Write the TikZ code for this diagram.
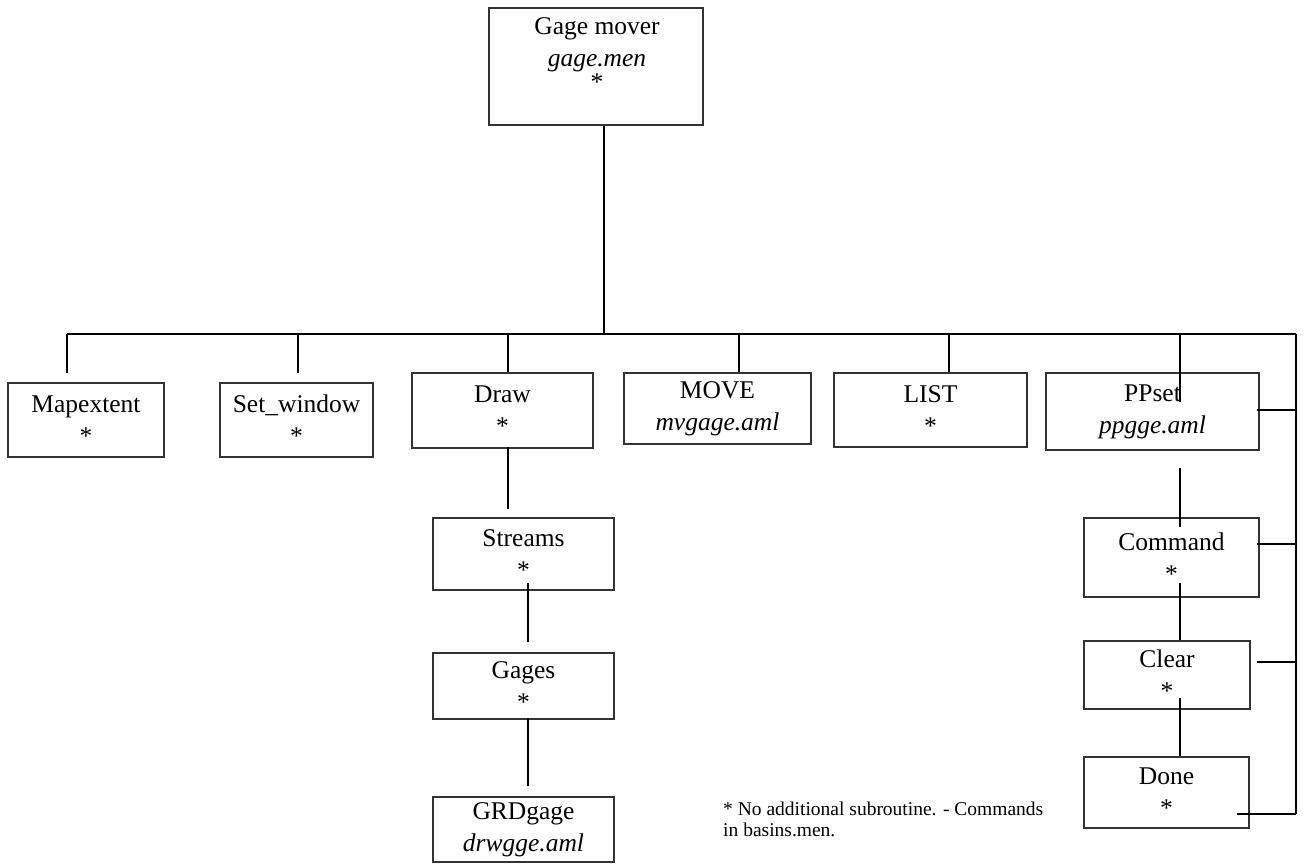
\documentclass[tikz,border=0pt]{standalone}
\usepackage{fontspec}
\setmainfont{Liberation Serif}
\usetikzlibrary{calc}
\begin{document}
\begin{tikzpicture}[x=1pt,y=-1pt,
  box/.style={draw=black!80, line width=1.1pt, inner sep=0pt, align=center,
    font=\fontsize{25.5}{32}\selectfont},
  link/.style={line width=2.6pt, black},
  busline/.style={line width=1.6pt, black},
  note/.style={font=\fontsize{19.5}{21}\selectfont, align=left, inner sep=0pt}]
\useasboundingbox (0,0) rectangle (1308,863);
\fill[white] (0,0) rectangle (1308,863);

% boxes
\node[box, minimum width=214pt, minimum height=117pt] (top) at (596,66.5) {};
\node[align=center, inner sep=0pt, anchor=north, font=\fontsize{25.5}{32}\selectfont] (toptxt) at (597,17)
  {Gage mover\\\textit{gage.men}\\[-8pt]*};
\node[box, minimum width=156pt, minimum height=74pt] (mapext) at (86,420) {Mapextent\\*};
\node[box, minimum width=153pt, minimum height=74pt] (setwin) at (296.5,420) {Set\_window\\*};
\node[box, minimum width=181pt, minimum height=75pt] (draw) at (502.5,410.5) {Draw\\*};
\node[box, minimum width=187pt, minimum height=71pt] (move) at (717.5,408.5) {MOVE\\\textit{mvgage.aml}};
\node[box, minimum width=193pt, minimum height=74pt] (list) at (930.5,410) {LIST\\*};
\node[box, minimum width=213pt, minimum height=77pt] (ppset) at (1152.5,411.5) {PPset\\\textit{ppgge.aml}};
\node[box, minimum width=181pt, minimum height=72pt] (streams) at (523.5,554) {Streams\\*};
\node[box, minimum width=181pt, minimum height=66pt] (gages) at (523.5,686) {Gages\\*};
\node[box, minimum width=181pt, minimum height=65pt] (grd) at (523.5,829.5) {GRDgage\\\textit{drwgge.aml}};
\node[box, minimum width=175pt, minimum height=79pt] (command) at (1171.5,557.5) {Command\\*};
\node[box, minimum width=166pt, minimum height=68pt] (clear) at (1167,675) {Clear\\*};
\node[box, minimum width=165pt, minimum height=71pt] (done) at (1166.5,792.5) {Done\\*};

\node[note, anchor=base west] (note) at (723,836)
  {* No additional subroutine. - Commands\\in basins.men.};

% coordinates
\coordinate (bustop) at (604,334);
\coordinate (busL) at (67,334);
\coordinate (busR) at (1296,334);
\coordinate (railB) at (1296,814);
\coordinate (mapD) at (67,373);
\coordinate (setD) at (298,373);
\coordinate (ppD) at (1180,402);
\coordinate (drawS1) at (508,447);
\coordinate (drawS2) at (508,509);
\coordinate (strS1) at (528,583);
\coordinate (strS2) at (528,642);
\coordinate (gagS1) at (528,718);
\coordinate (gagS2) at (528,786);
\coordinate (ppS1) at (1180,468);
\coordinate (ppS2) at (1180,527);
\coordinate (cmdS1) at (1180,583);
\coordinate (clrS1) at (1180,698);
\coordinate (ppR) at (1257,410);
\coordinate (cmdR) at (1257,544);
\coordinate (clrR) at (1257,662);
\coordinate (doneR) at (1237,814);

% connectors
\draw[link] (top.south -| bustop) -- (bustop);
\draw[busline] (busL) -- (busR);
\draw[link] (busL) -- (mapD);
\draw[link] (setD |- busL) -- (setD);
\draw[link] (busL -| 508,0) -- (draw.north -| 508,0);
\draw[link] (busL -| 739,0) -- (move.north -| 739,0);
\draw[link] (busL -| 949,0) -- (list.north -| 949,0);
\draw[link] (ppD |- busL) -- (ppD);
\draw[link] (busR) -- (railB);
\draw[link] (drawS1) -- (drawS2);
\draw[link] (strS1) -- (strS2);
\draw[link] (gagS1) -- (gagS2);
\draw[link] (ppS1) -- (ppS2);
\draw[link] (cmdS1) -- (clear.north -| cmdS1);
\draw[link] (clrS1) -- (done.north -| clrS1);
\draw[link] (ppR) -- (ppR -| railB);
\draw[link] (cmdR) -- (cmdR -| railB);
\draw[link] (clrR) -- (clrR -| railB);
\draw[link] (doneR) -- (railB);
\end{tikzpicture}
\end{document}
